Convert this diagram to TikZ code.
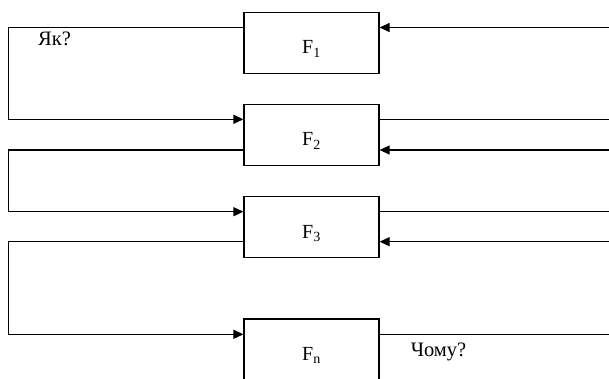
\documentclass[tikz,border=0pt]{standalone}
\usepackage{fontspec}
\setmainfont{Liberation Serif}
\usetikzlibrary{arrows.meta,calc}
\tikzset{
  fbox/.style={draw,line width=1.2pt,minimum width=135pt,minimum height=61pt,inner sep=0pt,text height=22pt,text depth=0pt,font=\fontsize{20}{24}\selectfont},
  link/.style={line width=1.2pt},
  arr/.style={line width=1.2pt,-{Triangle[length=10pt,width=9pt]}},
  lbl/.style={font=\fontsize{20.5}{24}\selectfont,inner sep=0pt}
}
\begin{document}
\begin{tikzpicture}[x=1pt,y=-1pt]
\useasboundingbox (0,0) rectangle (609,379);
\clip (0,0) rectangle (609,379);
\node[fbox] (F1) at (311.5,43) {F\textsubscript{1}};
\node[fbox] (F2) at (311.5,135) {F\textsubscript{2}};
\node[fbox] (F3) at (311.5,227) {F\textsubscript{3}};
\node[fbox] (Fn) at (311.5,349.5) {F\textsubscript{n}};
\coordinate (a1) at (8.5,27.5);
\coordinate (a2) at (8.5,119.3);
\coordinate (b1) at (8.5,150);
\coordinate (b2) at (8.5,211.7);
\coordinate (c1) at (8.5,241.7);
\coordinate (c2) at (8.5,334.3);
\coordinate (r1) at (609,27.5);
\coordinate (r2o) at (609,119.3);
\coordinate (r2i) at (609,150);
\coordinate (r3o) at (609,211.7);
\coordinate (r3i) at (609,241.7);
\coordinate (rno) at (609,334.3);
% left feedback loops
\draw[arr] (F1.west |- a1) -- (a1) -- (a2) -- (F2.west |- a2);
\draw[arr] (F2.west |- b1) -- (b1) -- (b2) -- (F3.west |- b2);
\draw[arr] (F3.west |- c1) -- (c1) -- (c2) -- (Fn.west |- c2);
% right side lines
\draw[arr] (r1) -- (F1.east |- r1);
\draw[link] (F2.east |- r2o) -- (r2o);
\draw[arr] (r2i) -- (F2.east |- r2i);
\draw[link] (F3.east |- r3o) -- (r3o);
\draw[arr] (r3i) -- (F3.east |- r3i);
\draw[link] (Fn.east |- rno) -- (rno);
\node[lbl] (q1) at (54.5,39) {Як?};
\node[lbl] (q2) at (438.5,352) {Чому?};
\end{tikzpicture}
\end{document}
